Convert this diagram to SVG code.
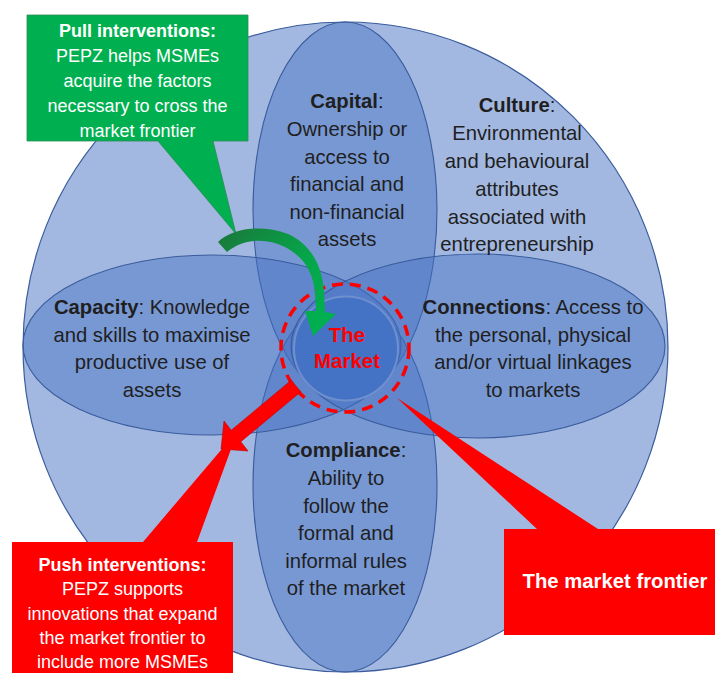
<svg xmlns="http://www.w3.org/2000/svg" width="715" height="673" viewBox="0 0 715 673">
  <defs>
    <style>
      .body { font-family: "Liberation Sans", Arial, sans-serif; font-size: 20.3px; fill: #1f1f1f; text-anchor: middle; }
      .b { font-weight: bold; }
      .lobe { fill: #4472c4; fill-opacity: 0.45; stroke: #3a5c9c; stroke-width: 1.1; }
      .callout-text { font-family: "Liberation Sans", Arial, sans-serif; font-size: 18px; fill: #ffffff; text-anchor: middle; }
      .market { font-family: "Liberation Sans", Arial, sans-serif; font-size: 20.5px; font-weight: bold; fill: #ff0000; text-anchor: middle; }
    </style>
    <linearGradient id="pullGrad" gradientUnits="userSpaceOnUse" x1="220" y1="240" x2="320" y2="330">
      <stop offset="0" stop-color="#187c3c"/>
      <stop offset="0.55" stop-color="#06a54a"/>
      <stop offset="1" stop-color="#00b050"/>
    </linearGradient>
  </defs>

  <rect width="715" height="673" fill="#ffffff"/>

  <!-- outer field (culture) -->
  <g id="field">
    <ellipse cx="345.5" cy="347" rx="322.5" ry="325" fill="#a3b8e1" stroke="#3a5c9c" stroke-width="1.2"/>
  </g>

  <!-- the four overlapping lobes -->
  <g id="capital">
    <ellipse class="lobe" cx="345" cy="210" rx="92" ry="188"/>
  </g>
  <g id="compliance">
    <ellipse class="lobe" cx="345" cy="485" rx="92" ry="187"/>
  </g>
  <g id="capacity">
    <ellipse class="lobe" cx="212" cy="345" rx="189" ry="90"/>
  </g>
  <g id="connections">
    <ellipse class="lobe" cx="478" cy="346" rx="187" ry="92"/>
  </g>

  <!-- lobe labels -->
  <g id="capital-text" class="body">
    <text x="347" y="108"><tspan class="b">Capital</tspan>:</text>
    <text x="347" y="136">Ownership or</text>
    <text x="347" y="163.5">access to</text>
    <text x="347" y="191">financial and</text>
    <text x="347" y="218.5">non-financial</text>
    <text x="347" y="246">assets</text>
  </g>
  <g id="culture-text" class="body">
    <text x="517" y="112"><tspan class="b">Culture</tspan>:</text>
    <text x="517" y="140">Environmental</text>
    <text x="517" y="168">and behavioural</text>
    <text x="517" y="196">attributes</text>
    <text x="517" y="223.5">associated with</text>
    <text x="517" y="251">entrepreneurship</text>
  </g>
  <g id="capacity-text" class="body">
    <text x="152" y="314"><tspan class="b">Capacity</tspan>: Knowledge</text>
    <text x="152" y="341.5">and skills to maximise</text>
    <text x="152" y="369">productive use of</text>
    <text x="152" y="396.5">assets</text>
  </g>
  <g id="connections-text" class="body">
    <text x="533" y="314"><tspan class="b">Connections</tspan>: Access to</text>
    <text x="533" y="341.5">the personal, physical</text>
    <text x="533" y="369">and/or virtual linkages</text>
    <text x="533" y="396.5">to markets</text>
  </g>
  <g id="compliance-text" class="body">
    <text x="346" y="457"><tspan class="b">Compliance</tspan>:</text>
    <text x="346" y="485">Ability to</text>
    <text x="346" y="512.5">follow the</text>
    <text x="346" y="540">formal and</text>
    <text x="346" y="567.5">informal rules</text>
    <text x="346" y="595">of the market</text>
  </g>

  <!-- central market -->
  <g id="market">
    <circle cx="346" cy="348.5" r="52" fill="#4472c4" stroke="#6f90cf" stroke-width="2"/>
    <circle cx="345" cy="348" r="64" fill="none" stroke="#ff0000" stroke-width="3.5" stroke-dasharray="11 7"/>
    <text class="market" x="347" y="342">The</text>
    <text class="market" x="347" y="368">Market</text>
  </g>

  <!-- callouts -->
  <g id="pull-callout">
    <polygon points="27,15 248,15 248,141 213,141 236,234 158,141 27,141" fill="#00b050" stroke="#2c8a55" stroke-width="0.8"/>
    <text class="callout-text" x="137.5" y="37"><tspan class="b">Pull interventions:</tspan></text>
    <text class="callout-text" x="137.5" y="62">PEPZ helps MSMEs</text>
    <text class="callout-text" x="137.5" y="87">acquire the factors</text>
    <text class="callout-text" x="137.5" y="112">necessary to cross the</text>
    <text class="callout-text" x="137.5" y="137">market frontier</text>
  </g>

  <g id="frontier-callout">
    <polygon points="504,529 537,529 397,398 598,529 720,529 720,635 504,635" fill="#ff0000"/>
    <text class="callout-text" x="615" y="588" style="font-size:20.3px;font-weight:bold">The market frontier</text>
  </g>

  <!-- intervention arrows -->
  <g id="connectors">
    <path d="M218,242 C232,228 262,224 288,234 C308,243 322,262 324,292 L325,312 L336,314 L313,336 L305,311 L316,311 L315,293 C313,270 302,256 285,247 C265,237 243,239 227,252 Z" fill="url(#pullGrad)"/>
    <polygon points="291.2,380.3 300.8,391.7 240.8,441.7 248,451 221,449 224,421 231.2,430.3" fill="#ff0000" stroke="#c00000" stroke-width="0.6"/>
  </g>

  <g id="push-callout">
    <polygon points="12,542 143,542 238,430 197,542 233,542 233,680 12,680" fill="#ff0000"/>
    <text class="callout-text" x="122.5" y="571"><tspan class="b">Push interventions:</tspan></text>
    <text class="callout-text" x="122.5" y="595">PEPZ supports</text>
    <text class="callout-text" x="122.5" y="620">innovations that expand</text>
    <text class="callout-text" x="122.5" y="644">the market frontier to</text>
    <text class="callout-text" x="122.5" y="668">include more MSMEs</text>
  </g>
</svg>
